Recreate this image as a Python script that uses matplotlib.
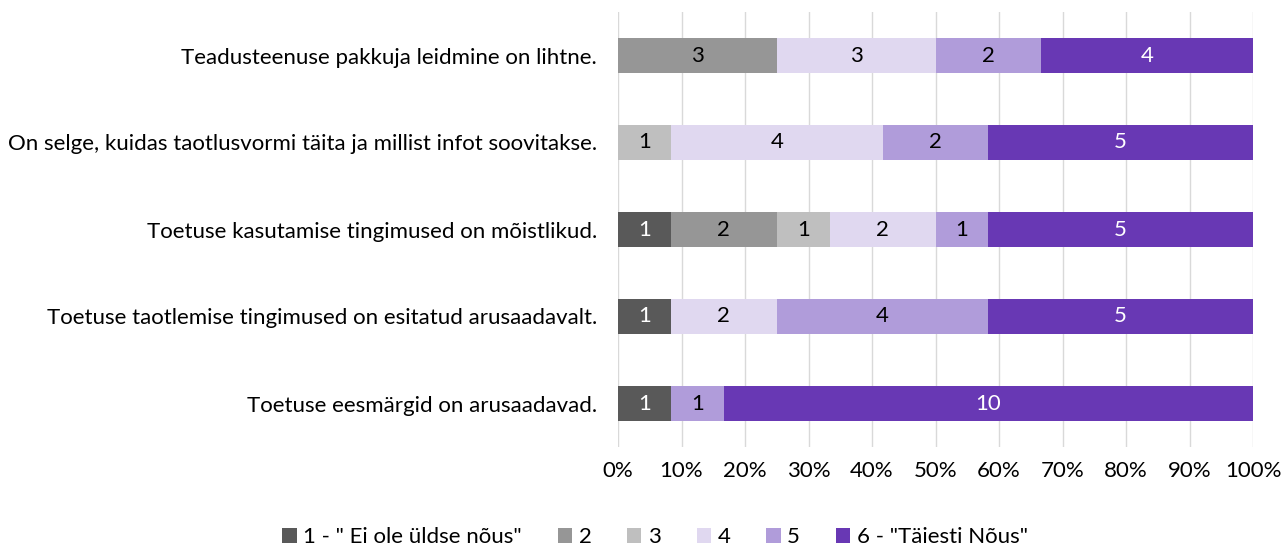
import matplotlib
matplotlib.use("Agg")
import matplotlib.pyplot as plt
import numpy as np
from matplotlib.patches import Patch

plt.rcParams['font.family'] = ['Lato', 'DejaVu Sans']

categories = [
    "Toetuse eesmärgid on arusaadavad.",
    "Toetuse taotlemise tingimused on esitatud arusaadavalt.",
    "Toetuse kasutamise tingimused on mõistlikud.",
    "On selge, kuidas taotlusvormi täita ja millist infot soovitakse.",
    "Teadusteenuse pakkuja leidmine on lihtne.",
]
series_names = ['1 - " Ei ole üldse nõus"', '2', '3', '4', '5', '6 - "Täiesti Nõus"']
s1 = [1, 1, 1, 0, 0]
s2 = [0, 0, 2, 0, 3]
s3 = [0, 0, 1, 1, 0]
s4 = [0, 2, 2, 4, 3]
s5 = [1, 4, 1, 2, 2]
s6 = [10, 5, 5, 5, 4]
series = [s1, s2, s3, s4, s5, s6]
colors = ['#595959', '#969696', '#BFBFBF', '#E0D8F0', '#B09CDA', '#6838B4']
text_colors = ['white', 'black', 'black', 'black', 'black', 'white']

data = np.array(series, dtype=float)
totals = data.sum(axis=0)
pct = data / totals * 100

FS = 16

fig = plt.figure(figsize=(12.86, 5.48), dpi=100)
ax = fig.add_axes([618/1286, 1-447/548, (1253-618)/1286, 435/548])

y = np.arange(len(categories))
left = np.zeros(len(categories))
for i, name in enumerate(series_names):
    ax.barh(y, pct[i], left=left, height=0.4, color=colors[i], label=name, zorder=2)
    for j in range(len(categories)):
        if data[i, j] > 0:
            ax.text(left[j] + pct[i, j]/2, y[j], f"{int(data[i, j])}", ha='center', va='center',
                    fontsize=FS, color=text_colors[i], zorder=3)
    left += pct[i]

ax.set_xlim(0, 100)
ax.set_ylim(-0.5, len(categories) - 0.5)
ax.set_xticks(np.arange(0, 101, 10))
ax.set_xticklabels([f"{v}%" for v in range(0, 101, 10)], fontsize=FS)
ax.set_yticks(y)
ax.set_yticklabels(categories, fontsize=FS)
ax.tick_params(axis='both', length=0)
ax.tick_params(axis='y', pad=15)
ax.tick_params(axis='x', pad=10)
ax.grid(axis='x', color='#D9D9D9', linewidth=1, zorder=0)
ax.set_axisbelow(True)
for s in ax.spines.values():
    s.set_visible(False)

handles = [Patch(facecolor=c, edgecolor='none') for c in colors]
fig.legend(handles, series_names, loc='center', bbox_to_anchor=(655/1286, 1-537/548), ncol=6,
           frameon=False, fontsize=FS, handlelength=0.65, handleheight=0.65, handletextpad=0.3,
           columnspacing=1.6)

fig.savefig("out.png", dpi=100)
